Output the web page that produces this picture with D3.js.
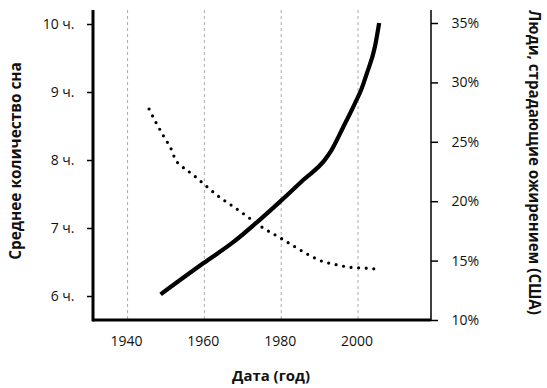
<!DOCTYPE html>
<html><head><meta charset="utf-8">
<script src="https://cdn.jsdelivr.net/npm/d3@7"></script>
<style>body{margin:0;background:#fff}svg{display:block}text{font-family:"Open Sans",sans-serif}</style>
</head><body>
<svg id="c" width="547" height="388"></svg>
<script>
const xTicks = [1940, 1960, 1980, 2000];
const sleepTicks = [6, 7, 8, 9, 10];
const sleepTickLabels = ["6 ч.", "7 ч.", "8 ч.", "9 ч.", "10 ч."];
const obesityTicks = [10, 15, 20, 25, 30, 35];
const obesityTickLabels = ["10%", "15%", "20%", "25%", "30%", "35%"];
// Solid line: obesity (right axis)
const obesityYears = [1948.6,1959.7,1967.5,1973.6,1979.7,1985.8,1991.4,1993.1,1996.2,1999.2,2000.8,2002.3,2004.4,2005.5];
const obesityValues = [12.16,14.77,16.55,18.2,19.96,21.8,23.5,24.3,26.27,28.24,29.36,30.76,33.0,35.0];
// Dotted line: average sleep (left axis)
const sleepYears = [1945.6,1947.5,1949.5,1951.6,1952.4,1953.7,1957.1,1960.4,1963.8,1967.4,1970.9,1974.5,1979.9,1983.4,1987.0,1990.7,1994.4,1998.2,2001.8,2005.7];
const sleepValues = [8.75,8.54,8.34,8.13,8.01,7.93,7.78,7.62,7.46,7.32,7.18,7.03,6.85,6.73,6.61,6.51,6.46,6.42,6.41,6.39];
const xTitle = "Дата (год)";
const yLeftTitle = "Среднее количество сна";
const yRightTitle = "Люди, страдающие ожирением (США)";

const svg = d3.select("#c");
const L = 93, R = 431, T = 10, B = 320;
const FONT = "'Open Sans', sans-serif";
const x = d3.scaleLinear().domain([1931, 2019]).range([L, R]);
const yS = d3.scaleLinear().domain([6, 10]).range([296, 24]);
const yO = d3.scaleLinear().domain([10, 35]).range([320, 23]);

// gridlines
svg.append("g").selectAll("line").data(xTicks).join("line")
  .attr("x1", d => x(d)).attr("x2", d => x(d)).attr("y1", T).attr("y2", B)
  .attr("stroke", "#aaa").attr("stroke-width", 1).attr("stroke-dasharray", "3,3");

// x labels
svg.append("g").selectAll("text").data(xTicks).join("text")
  .attr("x", d => x(d) - 1).attr("y", 346).attr("text-anchor", "middle")
  .attr("font-size", 14).attr("fill", "#111").text(d => d);

// left axis
const gl = svg.append("g").attr("transform", `translate(${L},0)`)
  .call(d3.axisLeft(yS).tickValues(sleepTicks).tickFormat((d,i) => sleepTickLabels[i]).tickSize(6).tickPadding(12.5));
gl.select(".domain").remove();
gl.selectAll(".tick line").attr("stroke", "#000").attr("stroke-width", 1.5);
gl.selectAll(".tick text").attr("font-size", 14).attr("fill", "#111").style("font-family", FONT);

// right axis
const gr = svg.append("g").attr("transform", `translate(${R},0)`)
  .call(d3.axisRight(yO).tickValues(obesityTicks).tickFormat((d,i) => obesityTickLabels[i]).tickSize(7).tickPadding(13.5));
gr.select(".domain").remove();
gr.selectAll(".tick line").attr("stroke", "#000").attr("stroke-width", 1.5);
gr.selectAll(".tick text").attr("font-size", 14).attr("fill", "#111").style("font-family", FONT);

// axis lines
svg.append("line").attr("x1", R).attr("x2", R).attr("y1", T).attr("y2", B).attr("stroke", "#000").attr("stroke-width", 1.5);
svg.append("line").attr("x1", L).attr("x2", R).attr("y1", B).attr("y2", B).attr("stroke", "#000").attr("stroke-width", 3);
svg.append("line").attr("x1", L).attr("x2", L).attr("y1", T).attr("y2", B + 1.5).attr("stroke", "#000").attr("stroke-width", 3);

// lines
const lineO = d3.line().x((d,i) => x(obesityYears[i])).y(d => yO(d)).curve(d3.curveMonotoneX);
svg.append("path").attr("d", lineO(obesityValues)).attr("fill", "none")
  .attr("stroke", "#000").attr("stroke-width", 4.2);
const lineS = d3.line().x((d,i) => x(sleepYears[i])).y(d => yS(d)).curve(d3.curveMonotoneX);
svg.append("path").attr("d", lineS(sleepValues)).attr("fill", "none")
  .attr("stroke", "#000").attr("stroke-width", 3.2).attr("stroke-linecap", "round").attr("stroke-dasharray", "0 7.6");

// titles (fit to measured widths)
function fit(sel, target) {
  const len = sel.node().getComputedTextLength();
  sel.attr("font-size", 13 * target / len);
}
const t1 = svg.append("text").attr("x", 271).attr("y", 381).attr("text-anchor", "middle")
  .attr("font-size", 13).attr("font-weight", "bold").attr("fill", "#111").text(xTitle);
fit(t1, 78);
const t2 = svg.append("text").attr("transform", "translate(21,161) rotate(-90)").attr("text-anchor", "middle")
  .attr("font-size", 13).attr("font-weight", "bold").attr("fill", "#111").text(yLeftTitle);
fit(t2, 198);
const t3 = svg.append("text").attr("transform", "translate(529,162.5) rotate(90)").attr("text-anchor", "middle")
  .attr("font-size", 13).attr("font-weight", "bold").attr("fill", "#111").text(yRightTitle);
fit(t3, 305);
</script>
</body></html>
